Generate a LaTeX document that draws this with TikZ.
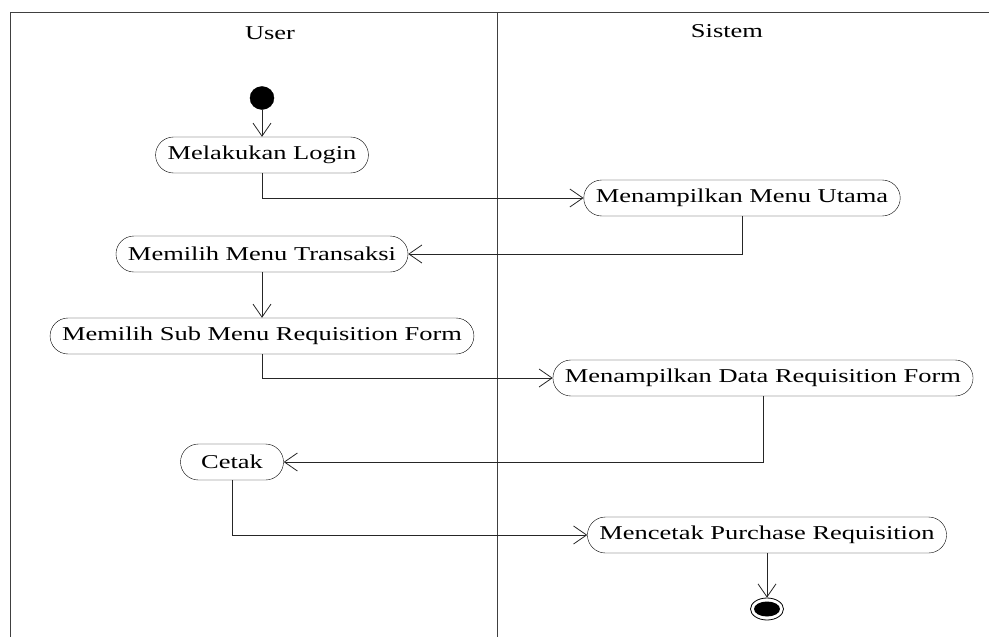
\documentclass[tikz,border=0pt]{standalone}
\usepackage{fontspec}
\setmainfont{Liberation Serif}[FakeStretch=1.35]
\usetikzlibrary{arrows.meta,positioning,shapes.geometric}

\begin{document}
\begin{tikzpicture}[x=1pt,y=-1pt]

  % Styles
  \tikzstyle{activity}=[draw,rounded corners=18pt,minimum height=36pt,inner xsep=12pt,inner ysep=0pt,font=\fontsize{19.6}{22}\selectfont]
  \tikzstyle{start}=[ellipse,fill=black,draw=black,minimum width=24pt,minimum height=23pt,inner sep=0pt]
  \tikzstyle{stopring}=[ellipse,draw,line width=0.8pt,minimum width=33pt,minimum height=22pt,inner sep=0pt]
  \tikzstyle{stopdot}=[ellipse,fill=black,minimum width=26pt,minimum height=15pt,inner sep=0pt]
  \tikzstyle{to}=[-{Straight Barb[length=13pt,width=18pt]},line width=0.8pt,draw=black!85]
  \tikzstyle{lane}=[line width=1pt,draw=black!75]
  \tikzstyle{title}=[font=\fontsize{19.6}{22}\selectfont]

  % \actnode{<id>}{<label>}
  \newcommand{\actnode}[2]{node[activity] (#1) {#2}}

  % ===========================================================================

  \useasboundingbox (0,0) rectangle (989,637);

  % Swimlanes
  \draw[lane] (10,637) |- (989,12);
  \draw[lane] (497,12) -- (497,637);
  \node[title] (user) at (270,33) {User};
  \node[title] (sistem) at (727,31) {Sistem};

  % Draw activities
  \node[start] (begin) at (262,98) {};
  \path (262,155) \actnode{login}{Melakukan Login};
  \path (742,198) \actnode{menu}{Menampilkan Menu Utama};
  \path (262,254) \actnode{trans}{Memilih Menu Transaksi};
  \path (262,336) \actnode{submenu}{Memilih Sub Menu Requisition Form};
  \path (763,378) \actnode{data}{Menampilkan Data Requisition Form};
  \path (232,462) node[activity,minimum width=103pt] (cetak) {Cetak};
  \path (767,535) \actnode{print}{Mencetak Purchase Requisition};
  \node[stopring] (stop) at (767,609) {};
  \node[stopdot] (stopdot) at (stop) {};

  % Draw arrows
  \draw[to] (begin.south) -- (login.north);
  \draw[to] (login.south) |- (menu.west);
  \draw[to] (menu.south) |- (trans.east);
  \draw[to] (trans.south) -- (submenu.north);
  \draw[to] (submenu.south) |- (data.west);
  \draw[to] (data.south) |- (cetak.east);
  \draw[to] (cetak.south) |- (print.west);
  \draw[to] (print.south) -- (stop.north);

\end{tikzpicture}
\end{document}
